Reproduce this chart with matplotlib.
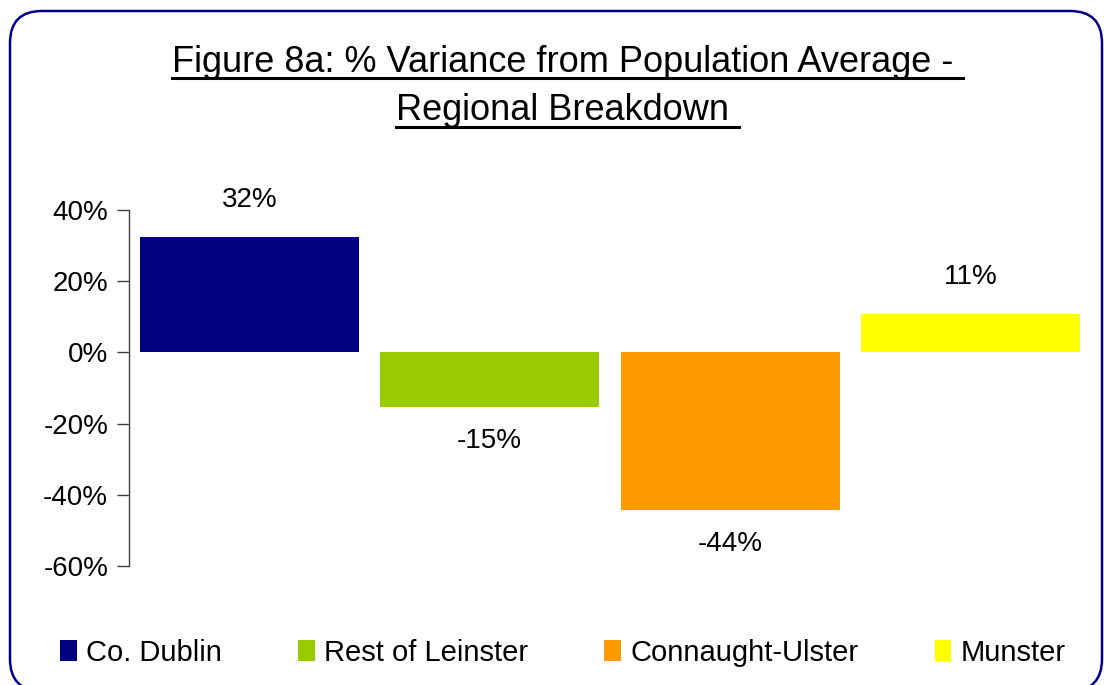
import matplotlib
matplotlib.use("Agg")
import matplotlib.pyplot as plt
from matplotlib.patches import FancyBboxPatch, Patch
from matplotlib.lines import Line2D
from matplotlib.transforms import IdentityTransform

plt.rcParams['font.family'] = ['Liberation Sans', 'DejaVu Sans']

categories = ["Co. Dublin", "Rest of Leinster", "Connaught-Ulster", "Munster"]
values = [0.323, -0.154, -0.444, 0.107]
colors = ["#000080", "#99CC00", "#FF9900", "#FFFF00"]
yticks = [-0.6, -0.4, -0.2, 0.0, 0.2, 0.4]
title_lines = ["Figure 8a: % Variance from Population Average - ", "Regional Breakdown "]

W, H, DPI = 1104, 685, 100
fig = plt.figure(figsize=(W / DPI, H / DPI), dpi=DPI)

# rounded border in pixel coords
border = FancyBboxPatch((10, -6), 1092, 680, boxstyle="round,pad=0,rounding_size=32",
                        transform=IdentityTransform(), facecolor="none",
                        edgecolor="#00008B", linewidth=1.8)
fig.patches.append(border)

ax = fig.add_axes([129 / W, 1 - 566 / H, (1091 - 129) / W, (566 - 210) / H])
x = list(range(len(categories)))
ax.bar(x, values, width=0.91, color=colors, edgecolor="none")
ax.set_xlim(-0.5, 3.5)
ax.set_ylim(-0.6, 0.4)
ax.set_yticks(yticks)
ax.set_yticklabels([f"{int(round(t * 100))}%" for t in yticks], fontsize=20)
ax.set_xticks([])
for s in ["top", "right", "bottom"]:
    ax.spines[s].set_visible(False)
ax.spines["left"].set_color("#404040")
ax.spines["left"].set_linewidth(1.0)
ax.tick_params(axis="y", direction="out", length=9, width=1.0, color="#404040", pad=6)

for xi, v in zip(x, values):
    off = 27 if v >= 0 else -24
    ax.annotate(f"{int(round(v * 100))}%", (xi, v), xytext=(0, off), textcoords="offset points",
                ha="center", va="center", fontsize=20)

# title with underline
t1 = fig.text(567.5 / W, 1 - 72 / H, title_lines[0], ha="center", va="baseline", fontsize=26)
t2 = fig.text(567.5 / W, 1 - 120 / H, title_lines[1], ha="center", va="baseline", fontsize=26)
fig.canvas.draw()
r = fig.canvas.get_renderer()
for t, uy in [(t1, 78), (t2, 127)]:
    bb = t.get_window_extent(renderer=r)
    fig.add_artist(Line2D([bb.x0 / W, bb.x1 / W], [1 - uy / H, 1 - uy / H],
                          transform=fig.transFigure, color="black", linewidth=2.2))

handles = [Patch(facecolor=c, edgecolor="none") for c in colors]
fig.legend(handles, categories, loc="center", bbox_to_anchor=(563 / W, 1 - 653 / H),
           ncol=4, frameon=False, fontsize=21, handlelength=0.58, handleheight=0.72,
           handletextpad=0.32, columnspacing=2.6, borderaxespad=0)

fig.savefig("out.png", dpi=DPI)
